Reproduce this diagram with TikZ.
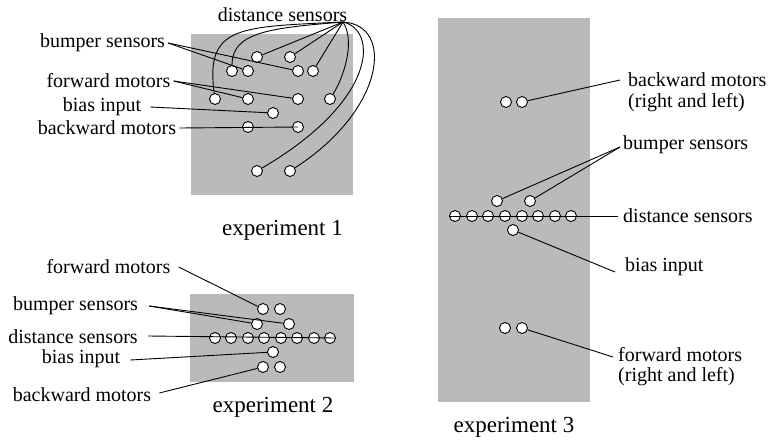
\documentclass[tikz,border=0pt]{standalone}
\usepackage{fontspec}
\setmainfont{Liberation Serif}
\definecolor{boardgray}{RGB}{186,186,186}
\begin{document}
\begin{tikzpicture}[x=1pt,y=-1pt,
  lab/.style={font=\fontsize{20}{23}\selectfont, inner sep=1pt},
  captext/.style={font=\fontsize{23}{27}\selectfont, inner sep=1pt},
  unit/.style={circle, draw, fill=white, line width=0.9pt, minimum size=11pt, inner sep=0pt},
  wire/.style={line width=0.9pt},
  board/.style={fill=boardgray, draw=none}]
\useasboundingbox (0,0) rectangle (770,439);

% ---------------- boards ----------------
\fill[board] (191,34) rectangle (353,195);
\fill[board] (190,294) rectangle (354,382);
\fill[board] (438,18) rectangle (590,402);

% ---------------- experiment 1 ----------------
\node[unit] (ad1) at (257,57) {};
\node[unit] (ad2) at (290,57) {};
\node[unit] (ad3) at (232,71) {};
\node[unit] (ab1) at (248,71) {};
\node[unit] (ab2) at (298,71) {};
\node[unit] (ad4) at (313,71) {};
\node[unit] (ad5) at (215,99) {};
\node[unit] (af1) at (248,99) {};
\node[unit] (af2) at (298,99) {};
\node[unit] (ad6) at (330,99) {};
\node[unit] (abi) at (273,113) {};
\node[unit] (ak1) at (248,127) {};
\node[unit] (ak2) at (298,127) {};
\node[unit] (ad7) at (257,171) {};
\node[unit] (ad8) at (290,171) {};

\node[lab] (aldist) at (282.5,15) {distance sensors};
\node[lab] (albump) at (102.5,43) {bumper sensors};
\node[lab] (alfwd) at (108.5,81) {forward motors};
\node[lab] (albias) at (102,107) {bias input};
\node[lab] (alback) at (107,128) {backward motors};
\node[captext] (acap) at (282.5,230) {experiment 1};
\coordinate (hub) at (343,22);

\draw[wire] (hub) -- (ad1);
\draw[wire] (hub) -- (ad2);
\draw[wire] (hub) -- (ad4);
\draw[wire] (hub) .. controls (240,27) and (205,25) .. (ad5);
\draw[wire] (hub) .. controls (270,28) and (232,32) .. (ad3);
\draw[wire] (hub) .. controls (355,40) and (345,75) .. (ad6);
\draw[wire] (hub) .. controls (378,30) and (378,100) .. (ad7);
\draw[wire] (hub) .. controls (395,25) and (385,110) .. (ad8);
\draw[wire] ([xshift=2pt]albump.east) -- (ab1);
\draw[wire] ([xshift=2pt]albump.east) -- (ab2);
\draw[wire] ([xshift=2pt]alfwd.east) -- (af1);
\draw[wire] ([xshift=2pt]alfwd.east) -- (af2);
\draw[wire] ([xshift=8pt]albias.east) -- (abi);
\draw[wire] ([xshift=2pt]alback.east) -- (ak2.center);

% ---------------- experiment 2 ----------------
\node[unit] (bf1) at (263,309) {};
\node[unit] (bf2) at (280,309) {};
\node[unit] (bb1) at (257,324) {};
\node[unit] (bb2) at (289,324) {};
\foreach \i/\x in {1/215,2/231,3/248,4/264,5/281,6/297,7/314,8/330}
  \node[unit] (bd\i) at (\x,338) {};
\node[unit] (bbi) at (273,352) {};
\node[unit] (bk1) at (263,367) {};
\node[unit] (bk2) at (280,367) {};

\node[lab] (blfwd) at (108.5,267) {forward motors};
\node[lab] (blbump) at (75.5,306) {bumper sensors};
\node[lab] (bldist) at (73,337) {distance sensors};
\node[lab] (blbias) at (81,358.5) {bias input};
\node[lab] (blback) at (82,395) {backward motors};
\node[captext] (bcap) at (273,407) {experiment 2};

\draw[wire] ([xshift=7pt]blfwd.east) -- (bf1);
\draw[wire] ([xshift=10pt]blbump.east) -- (bb1);
\draw[wire] ([xshift=10pt]blbump.east) -- (bb2);
\draw[wire] ([xshift=9pt,yshift=1pt]bldist.east) -- (bd8.east);
\draw[wire] ([xshift=9pt,yshift=-1.5pt]blbias.east) -- (bbi);
\draw[wire] ([xshift=7pt,yshift=2pt]blback.east) -- (bk1);

% ---------------- experiment 3 ----------------
\node[unit] (ck1) at (506,102) {};
\node[unit] (ck2) at (522,102) {};
\node[unit] (cb1) at (497,201) {};
\node[unit] (cb2) at (530,201) {};
\foreach \i/\x in {1/455,2/472,3/488,4/505,5/522,6/538,7/555,8/571}
  \node[unit] (cd\i) at (\x,216) {};
\node[unit] (cbi) at (513,230) {};
\node[unit] (cf1) at (505,328) {};
\node[unit] (cf2) at (522,328) {};

\node[lab, anchor=west] (clback) at (627,80) {backward motors};
\node[lab, anchor=west] (clbackrl) at (627,103) {(right and left)};
\node[lab, anchor=west] (clbump) at (622,145) {bumper sensors};
\node[lab, anchor=west] (cldist) at (622,216) {distance sensors};
\node[lab, anchor=west] (clbias) at (624,267) {bias input};
\node[lab, anchor=west] (clfwd) at (617,355) {forward motors};
\node[lab, anchor=west] (clfwdrl) at (617,377) {(right and left)};
\node[captext] (ccap) at (514,427) {experiment 3};

\draw[wire] ([xshift=-7pt]clback.west) -- (ck2);
\draw[wire] ([xshift=-2pt,yshift=-2pt]clbump.west) -- (cb1);
\draw[wire] ([xshift=-2pt,yshift=-2pt]clbump.west) -- (cb2);
\draw[wire] ([xshift=-4pt]cldist.west) -- (cd1.west);
\draw[wire] ([xshift=-9pt,yshift=-5pt]clbias.west) -- (cbi);
\draw[wire] ([xshift=-4pt,yshift=-2pt]clfwd.west) -- (cf2);
\end{tikzpicture}
\end{document}
